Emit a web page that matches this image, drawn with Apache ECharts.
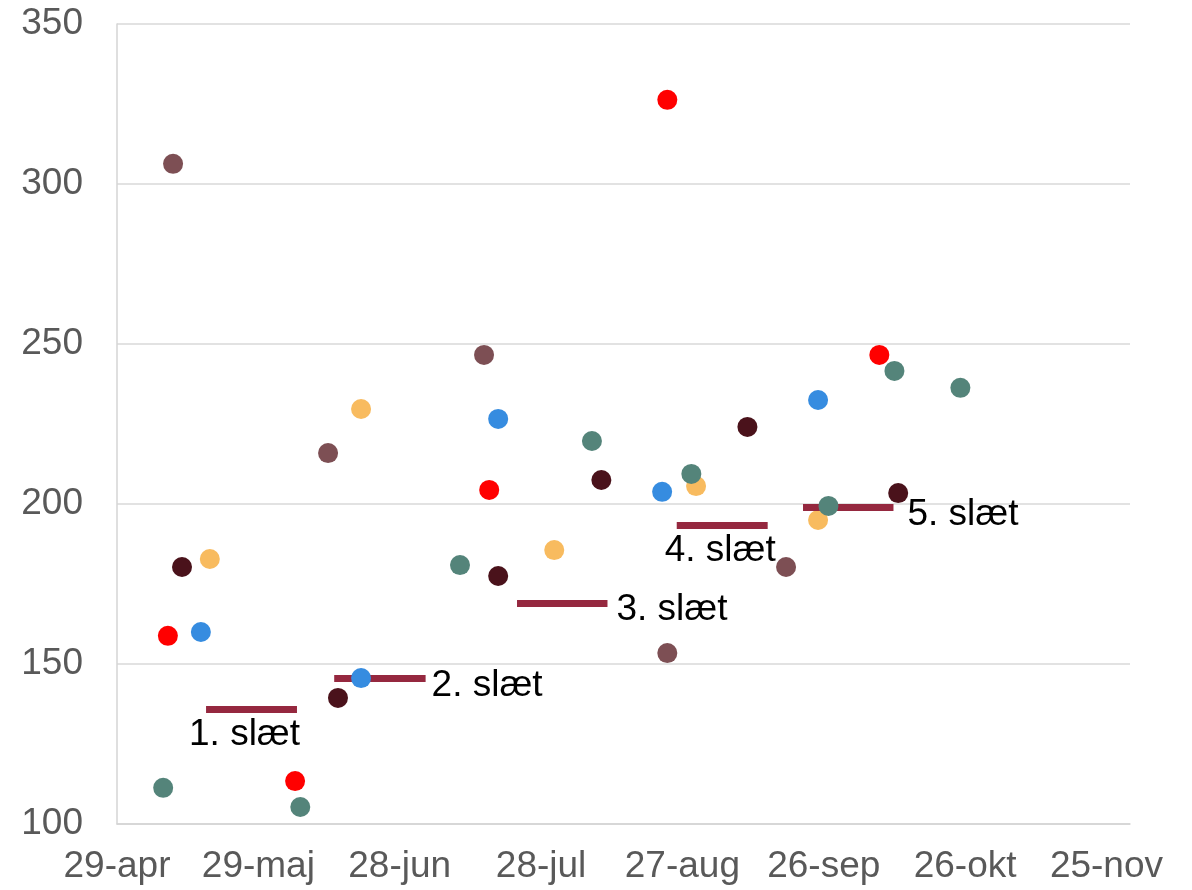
<!DOCTYPE html>
<html>
<head>
<meta charset="utf-8">
<script src="https://cdn.jsdelivr.net/npm/echarts@6/dist/echarts.min.js"></script>
<style>
html,body{margin:0;padding:0;background:#fff;}
#chart{width:1192px;height:890px;}
</style>
</head>
<body>
<div id="chart"></div>
<script>
// x values: days after 29-apr
const xTickLabels = ['29-apr', '29-maj', '28-jun', '28-jul', '27-aug', '26-sep', '26-okt', '25-nov'];
const yTickLabels = [100, 150, 200, 250, 300, 350];

const seriesNames = ['Serie 1', 'Serie 2', 'Serie 3', 'Serie 4', 'Serie 5', 'Serie 6'];
const redPts    = [[10.8, 158.8], [37.8, 113.4], [79.0, 204.4], [116.8, 326.3], [161.8, 246.6]];
const maroonPts = [[13.8, 180.3], [46.9, 139.4], [80.9, 177.5], [102.8, 207.5], [133.8, 224.1], [165.8, 203.4]];
const orangePts = [[19.7, 182.8], [51.8, 229.7], [92.8, 185.6], [122.9, 205.6], [148.8, 195.0]];
const bluePts   = [[17.8, 160.0], [51.8, 145.6], [80.9, 226.6], [115.7, 203.8], [148.8, 232.5]];
const brownPts  = [[11.9, 306.3], [44.8, 215.9], [77.9, 246.6], [116.8, 153.4], [142.0, 180.3]];
const tealPts   = [[9.8, 111.3], [38.9, 105.3], [72.8, 180.9], [100.8, 219.7], [121.9, 209.4], [151.0, 199.4], [165.0, 241.6], [179.0, 236.3]];

const cutNames  = ['1. slæt', '2. slæt', '3. slæt', '4. slæt', '5. slæt'];
const cutStart  = [18.9, 46.1, 84.9, 118.8, 145.6];
const cutEnd    = [38.2, 65.5, 104.1, 138.1, 164.8];
const cutValue  = [135.9, 145.5, 169.0, 193.4, 199.0];

// styles
const pointColors = ['#FF0000', '#4A121B', '#F8BB5F', '#368CE0', '#7D4F54', '#54847A'];
const cutLabelPos = ['insideMiddleBottom', 'end', 'end', 'insideMiddleBottom', 'end'];
const cutLabelOffset = [[-7, 5], [-2, 7], [1, 7], [-2, 5], [6, 8]];
const FONT = '"Liberation Sans", Arial, sans-serif';
const FS = 37;

const allPts = [redPts, maroonPts, orangePts, bluePts, brownPts, tealPts];

const chart = echarts.init(document.getElementById('chart'), null, {renderer: 'canvas'});

const series = allPts.map((pts, i) => ({
  type: 'scatter',
  name: seriesNames[i],
  data: pts,
  symbol: 'circle',
  symbolSize: 20,
  itemStyle: {color: pointColors[i], opacity: 1},
  z: 2 + i
}));

series.push({
  type: 'scatter',
  name: 'slæt',
  data: [],
  z: 20,
  markLine: {
    silent: true,
    animation: false,
    symbol: ['none', 'none'],
    lineStyle: {color: '#95283F', width: 7, type: 'solid', opacity: 1},
    emphasis: {disabled: true},
    label: {
      show: true,
      formatter: '{b}',
      color: '#000000',
      fontFamily: FONT,
      fontSize: FS
    },
    data: cutNames.map((n, i) => [
      {
        name: n,
        coord: [cutStart[i], cutValue[i]],
        label: {
          position: cutLabelPos[i],
          distance: cutLabelPos[i] === 'end' ? 8 : 2,
          offset: cutLabelOffset[i]
        }
      },
      {coord: [cutEnd[i], cutValue[i]]}
    ])
  }
});

chart.setOption({
  animation: false,
  backgroundColor: '#ffffff',
  grid: {left: 117, right: 62, top: 24, bottom: 66, containLabel: false},
  xAxis: {
    type: 'value',
    min: 0,
    max: 215,
    interval: 30,
    axisLine: {show: true, lineStyle: {color: '#D4D4D4', width: 1.5}},
    axisTick: {show: false},
    splitLine: {show: false},
    axisLabel: {
      color: '#595959',
      fontFamily: FONT,
      fontSize: FS,
      margin: 24,
      showMaxLabel: false,
      formatter: v => (v % 30 === 0 ? (xTickLabels[v / 30] || '') : '')
    }
  },
  yAxis: {
    type: 'value',
    min: yTickLabels[0],
    max: yTickLabels[yTickLabels.length - 1],
    interval: 50,
    axisLine: {show: true, lineStyle: {color: '#D4D4D4', width: 1.5}},
    axisTick: {show: false},
    splitLine: {show: true, lineStyle: {color: '#D9D9D9', width: 1.5}},
    axisLabel: {
      color: '#595959',
      fontFamily: FONT,
      fontSize: FS,
      margin: 34
    }
  },
  series: series
});
</script>
</body>
</html>
